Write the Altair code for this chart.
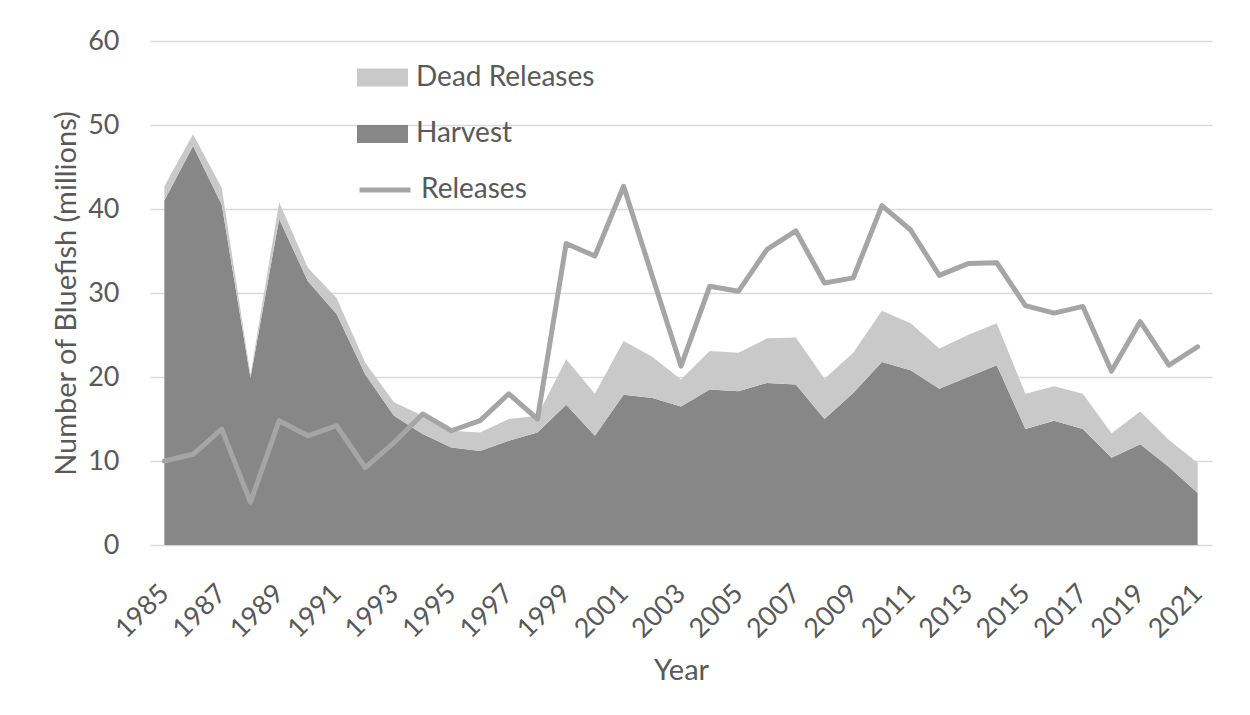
import altair as alt
import pandas as pd

years = list(range(1985, 2022))
harvest = [41.0, 47.5, 40.5, 19.9, 38.8, 31.4, 27.5, 20.3, 15.4, 13.2, 11.6, 11.2, 12.4, 13.4,
           16.7, 13.0, 17.9, 17.5, 16.5, 18.5, 18.3, 19.3, 19.1, 15.0,
           18.1, 21.8, 20.8, 18.6, 20.0, 21.4, 13.8, 14.8, 13.8, 10.4, 12.0, 9.3, 6.2]
dead_releases = [1.7, 1.4, 2.0, 0.4, 2.0, 1.6, 1.9, 1.4, 1.6, 2.2, 2.0, 2.2, 2.6, 2.0,
                 5.4, 5.0, 6.4, 4.9, 3.2, 4.6, 4.6, 5.3, 5.6, 4.8,
                 4.8, 6.1, 5.6, 4.8, 5.0, 5.0, 4.2, 4.1, 4.2, 2.9, 3.9, 3.2, 3.6]
releases = [10.0, 10.8, 13.8, 5.1, 14.8, 13.0, 14.2, 9.2, 12.2, 15.6, 13.6, 14.8, 18.0, 15.0,
            35.9, 34.4, 42.7, 32.0, 21.3, 30.8, 30.2, 35.2, 37.4, 31.2,
            31.8, 40.4, 37.5, 32.1, 33.5, 33.6, 28.5, 27.6, 28.4, 20.7, 26.6, 21.4, 23.6]
tick_years = list(range(1985, 2022, 2))

area_df = pd.concat([
    pd.DataFrame({"Year": years, "value": harvest, "series": "Harvest", "ord": 0}),
    pd.DataFrame({"Year": years, "value": dead_releases, "series": "Dead Releases", "ord": 1}),
])
line_df = pd.DataFrame({"Year": years, "value": releases, "series": "Releases"})

TXT = "#595959"

x_enc = alt.X("Year:Q",
              scale=alt.Scale(domain=[1984.5, 2021.5], nice=False, zero=False),
              axis=alt.Axis(values=tick_years, format="d", labelAngle=-45, labelAlign="right",
                            labelBaseline="middle", labelPadding=44, grid=False, ticks=False,
                            domain=False, title="Year", titlePadding=14,
                            labelFontSize=27, titleFontSize=29, labelColor=TXT, titleColor=TXT,
                            titleFontWeight="normal", labelOverlap=False))

areas = alt.Chart(area_df).mark_area(opacity=1, line=False).encode(
    x=x_enc,
    y=alt.Y("value:Q", stack="zero",
            scale=alt.Scale(domain=[0, 60], nice=False),
            axis=alt.Axis(values=[0, 10, 20, 30, 40, 50, 60], grid=True, gridColor="#D9D9D9",
                          gridWidth=1.5, domain=False, ticks=False, labelPadding=31,
                          title="Number of Bluefish (millions)", titlePadding=6,
                          labelFontSize=27, titleFontSize=29, labelColor=TXT, titleColor=TXT,
                          titleFontWeight="normal")),
    fill=alt.Fill("series:N",
                  scale=alt.Scale(domain=["Dead Releases", "Harvest"], range=["#C9C9C9", "#878787"]),
                  legend=alt.Legend(orient="none", legendX=207, legendY=11, title=None,
                                    symbolType="M-1,-0.353L1,-0.353L1,0.353L-1,0.353Z",
                                    symbolSize=2601, symbolStrokeWidth=0, symbolOpacity=1,
                                    labelFontSize=28, labelColor=TXT, labelOffset=8,
                                    labelLimit=500, rowPadding=16.5, labelFont="Lato")),
    order=alt.Order("ord:Q"),
)

line = alt.Chart(line_df).mark_line(strokeWidth=5, strokeCap="round", strokeJoin="round").encode(
    x=alt.X("Year:Q"),
    y=alt.Y("value:Q"),
    stroke=alt.Stroke("series:N", scale=alt.Scale(domain=["Releases"], range=["#A5A5A5"]),
                      legend=alt.Legend(orient="none", legendX=207, legendY=121, title=None,
                                        symbolType="stroke", symbolSize=2601, symbolStrokeWidth=5,
                                        labelFontSize=28, labelColor=TXT, labelOffset=8,
                                        labelLimit=500, labelFont="Lato")),
)

chart = alt.layer(areas, line).resolve_scale(fill="independent", stroke="independent").properties(
    width=1062, height=504,
    autosize=alt.AutoSizeParams(type="none"),
    padding={"left": 142, "top": 33, "right": 30, "bottom": 160},
    background="white",
).configure(font="Lato").configure_view(stroke=None)

chart.save("out.html", embed_options={"renderer": "svg", "actions": False})
